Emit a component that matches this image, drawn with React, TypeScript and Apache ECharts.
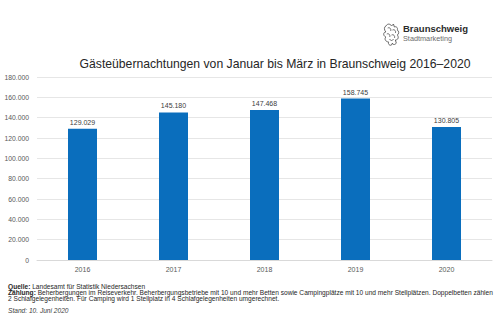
import React, { useEffect, useRef } from "react";
import * as echarts from "echarts";

const years = ["2016", "2017", "2018", "2019", "2020"];
const nights = [129029, 145180, 147468, 158745, 130805];
const yTicks = { min: 0, max: 180000, interval: 20000 };

const titleText = "Gästeübernachtungen von Januar bis März in Braunschweig 2016–2020";
const sourceLabel = "Quelle:";
const sourceText = " Landesamt für Statistik Niedersachsen";
const countLabel = "Zählung:";
const countLine1 = " Beherbergungen im Reiseverkehr. Beherbergungsbetriebe mit 10 und mehr Betten sowie Campingplätze mit 10 und mehr Stellplätzen. Doppelbetten zählen";
const countLine2 = "2 Schlafgelegenheiten. Für Camping wird 1 Stellplatz in 4 Schlafgelegenheiten umgerechnet.";
const standText = "Stand: 10. Juni 2020";
const brandName = "Braunschweig";
const brandSub = "Stadtmarketing";

const fmt = (v: number) => String(Math.round(v)).replace(/\B(?=(\d{3})+(?!\d))/g, ".");

const lionPath =
  "M3 3 C5 0 8 1 9 3 L11 1 L12 4 C14 3 16 5 15 7 C17 8 17 11 15 12 C17 14 16 17 13 17 L14 20 C13 22 10 22 10 20 L9 22 C7 23 5 21 6 19 C3 19 1 16 3 14 C0 13 0 9 3 9 C1 7 1 4 3 3 Z " +
  "M5 5 C7 4 9 6 8 8 M10 7 C12 6 14 8 13 10 M4 11 C6 10 8 12 7 14 M9 12 C11 11 13 13 12 15 M7 16 C8 18 10 18 11 16";

export default function App() {
  const ref = useRef<HTMLDivElement>(null);
  useEffect(() => {
    if (!ref.current) return;
    try {
      echarts.graphic.registerShape("logo", echarts.graphic.extendPath(lionPath, {}) as any);
    } catch (e) {}
    const chart = echarts.init(ref.current, null, { renderer: "svg" });
    const font = "'Liberation Sans', Arial, sans-serif";
    const fs = 6.6;
    chart.setOption({
      animation: false,
      backgroundColor: "#ffffff",
      textStyle: { fontFamily: font },
      title: {
        text: titleText,
        left: 270,
        textAlign: "center",
        top: 53,
        textStyle: { fontSize: 12.2, fontWeight: "normal", color: "#262626", fontFamily: font },
      },
      grid: { left: 37, right: 8, top: 77, bottom: 70, containLabel: false },
      xAxis: {
        type: "category",
        data: years,
        axisLine: { lineStyle: { color: "#d9d9d9" } },
        axisTick: { show: false },
        axisLabel: { color: "#595959", fontSize: 7, margin: 6, fontFamily: font },
      },
      yAxis: {
        type: "value",
        min: yTicks.min,
        max: yTicks.max,
        interval: yTicks.interval,
        axisLine: { show: false },
        axisTick: { show: false },
        splitLine: { lineStyle: { color: "#e6e6e6" } },
        axisLabel: { color: "#595959", fontSize: 6.8, margin: 8, formatter: (v: number) => fmt(v), fontFamily: font },
      },
      series: [
        {
          type: "bar",
          data: nights,
          barWidth: 29,
          itemStyle: { color: "#0a6ebd" },
          label: {
            show: true,
            position: "top",
            distance: 3,
            color: "#404040",
            fontSize: 7,
            fontFamily: font,
            formatter: (p: any) => fmt(p.value),
          },
        },
      ],
      graphic: [
        { type: "logo", x: 383, y: 23, scaleX: 0.95, scaleY: 1.0, style: { fill: "none", stroke: "#555", lineWidth: 0.9 } },
        { type: "text", x: 403, y: 28, style: { text: brandName, fontSize: 9.5, fontWeight: "bold", fill: "#2b2b2b", fontFamily: font, verticalAlign: "middle" } },
        { type: "text", x: 403, y: 38.5, style: { text: brandSub, fontSize: 7.3, fill: "#6b6b6b", fontFamily: font, verticalAlign: "middle" } },
        {
          type: "text",
          x: 8,
          y: 286,
          style: {
            text: "{b|" + sourceLabel + "}" + sourceText,
            fontSize: fs,
            fill: "#262626",
            fontFamily: font,
            verticalAlign: "middle",
            rich: { b: { fontWeight: "bold", fontSize: fs, fill: "#262626", fontFamily: font } },
          },
        },
        {
          type: "text",
          x: 8,
          y: 292,
          style: {
            text: "{b|" + countLabel + "}" + countLine1,
            fontSize: fs,
            fill: "#262626",
            fontFamily: font,
            verticalAlign: "middle",
            rich: { b: { fontWeight: "bold", fontSize: fs, fill: "#262626", fontFamily: font } },
          },
        },
        {
          type: "text",
          x: 8,
          y: 298,
          style: { text: countLine2, fontSize: fs, fill: "#262626", fontFamily: font, verticalAlign: "middle" },
        },
        {
          type: "text",
          x: 8,
          y: 310,
          style: { text: standText, fontSize: fs, fontStyle: "italic", fill: "#404040", fontFamily: font, verticalAlign: "middle" },
        },
      ],
    });
    return () => chart.dispose();
  }, []);
  return <div ref={ref} style={{ position: "absolute", left: 0, top: 0, width: 500, height: 330 }} />;
}
